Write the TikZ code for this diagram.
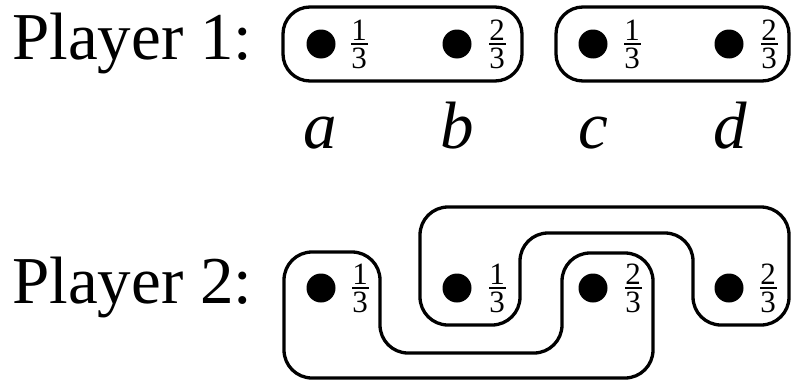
\documentclass[tikz,border=0pt]{standalone}
\usepackage{fontspec}
\setmainfont{Liberation Serif}
\begin{document}
\begin{tikzpicture}[x=1pt,y=-1pt,
  lbl/.style={font=\fontsize{67}{80}\selectfont, inner sep=0pt},
  var/.style={font=\fontsize{67}{80}\selectfont\itshape, inner sep=0pt},
  digit/.style={font=\fontsize{31}{36}\selectfont, inner sep=0pt},
  dot/.style={circle, fill, minimum size=29pt, inner sep=0pt},
  setline/.style={line width=3.3pt, rounded corners=28pt},
  fr/.pic={
    \fill (-8.5,-1.2) rectangle (8.5,1.2);
    \node[digit,anchor=base] at (0,-4) {#1};
    \node[digit,anchor=north] at (0,4) {3};
  }]
\useasboundingbox (0,0) rectangle (794,380);

% Player 1
\node[lbl,anchor=base west] (p1) at (12,59) {Player 1:};
\draw[line width=3.3pt, rounded corners=27pt] (283,7) rectangle (522,81);
\draw[line width=3.3pt, rounded corners=27pt] (556,7) rectangle (789,81);
\node[dot] (p1a) at (321,44) {};
\node[dot] (p1b) at (457,44) {};
\node[dot] (p1c) at (593,44) {};
\node[dot] (p1d) at (729,44) {};
\pic at (359,44) {fr=1};
\pic at (497,44) {fr=2};
\pic at (632,44) {fr=1};
\pic at (769,44) {fr=2};

% labels
\node[var,anchor=base] (la) at (320,148) {a};
\node[var,anchor=base] (lb) at (457,148) {b};
\node[var,anchor=base] (lc) at (593,148) {c};
\node[var,anchor=base] (ld) at (730,148) {d};

% Player 2
\node[lbl,anchor=base west] (p2) at (12,303) {Player 2:};
\draw[setline] (284,310) -- (284,252) -- (380,252) -- (380,353) -- (562,353)
  -- (562,253) -- (653,253) -- (653,378) -- (284,378) -- cycle;
\draw[setline] (420,265) -- (420,207) -- (789,207) -- (789,325) -- (693,325)
  -- (693,233) -- (520,233) -- (520,325) -- (420,325) -- cycle;
\node[dot] (p2a) at (321,288) {};
\node[dot] (p2b) at (457,288) {};
\node[dot] (p2c) at (593,288) {};
\node[dot] (p2d) at (729,288) {};
\pic at (360,288) {fr=1};
\pic at (497,288) {fr=1};
\pic at (633,288) {fr=2};
\pic at (768,288) {fr=2};
\end{tikzpicture}
\end{document}
